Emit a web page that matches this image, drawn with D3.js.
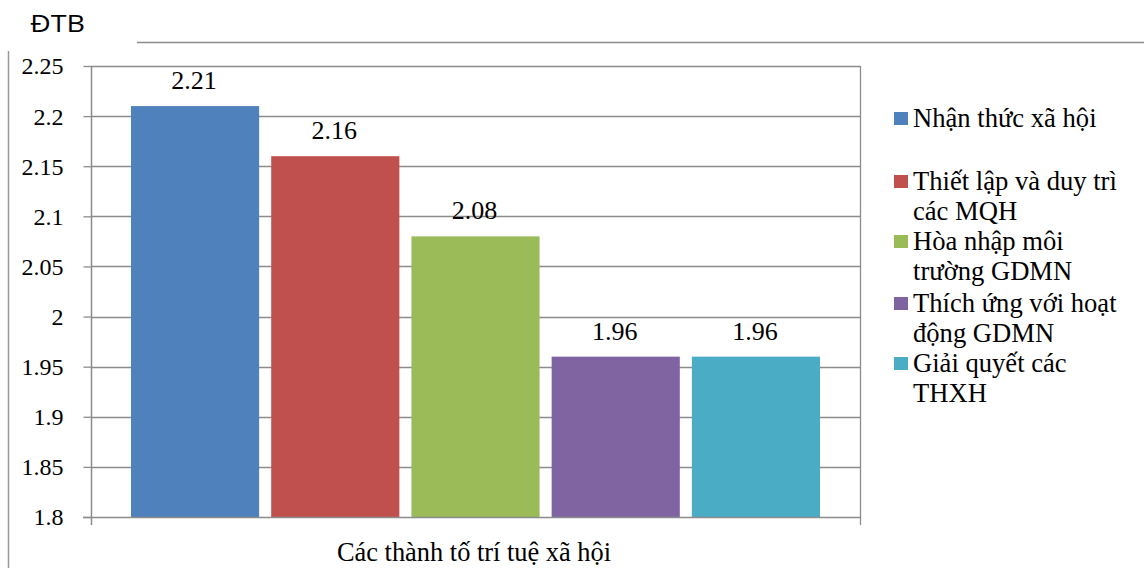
<!DOCTYPE html>
<html>
<head>
<meta charset="utf-8">
<script src="https://cdn.jsdelivr.net/npm/d3@7"></script>
<style>
  body { margin: 0; background: #fff; }
  text { font-family: "Liberation Serif", "Times New Roman", serif; fill: #000; }
</style>
</head>
<body>
<svg id="chart" width="1144" height="568"></svg>
<script>
// data
var series = ["Nhận thức xã hội", "Thiết lập và duy trì các MQH", "Hòa nhập môi trường GDMN", "Thích ứng với hoạt động GDMN", "Giải quyết các THXH"]
var legendLines = [["Nhận thức xã hội"], ["Thiết lập và duy trì", "các MQH"], ["Hòa nhập môi", "trường GDMN"], ["Thích ứng với hoạt", "động GDMN"], ["Giải quyết các", "THXH"]]
var values = [2.21, 2.16, 2.08, 1.96, 1.96]
var valueLabels = ["2.21", "2.16", "2.08", "1.96", "1.96"]
var yTicks = [1.8, 1.85, 1.9, 1.95, 2, 2.05, 2.1, 2.15, 2.2, 2.25]
var colors = ["#4F81BD", "#C0504D", "#9BBB59", "#8064A2", "#4BACC6"]
var category = "Các thành tố trí tuệ xã hội"

var svg = d3.select('#chart')
var plotLeft = 91, plotRight = 860, plotTop = 66, plotBottom = 517
var serif = '"Liberation Serif", "Times New Roman", serif'

var x = d3.scaleBand()
    .domain(series)
    .range([plotLeft, plotRight])
    .paddingInner(0.086)
    .paddingOuter(0.285)

var y = d3.scaleLinear()
    .domain([1.8, 2.25])
    .range([plotBottom, plotTop])

// outer frame bits
svg.append('line')
    .attr('x1', 137).attr('x2', 1144).attr('y1', 42.5).attr('y2', 42.5)
    .style('stroke', '#8c8c8c').style('stroke-width', 1.5)
svg.append('line')
    .attr('x1', 8.5).attr('x2', 8.5).attr('y1', 51).attr('y2', 568)
    .style('stroke', '#999').style('stroke-width', 1.5)

svg.append('text')
    .attr('x', 30).attr('y', 32)
    .attr('textLength', 55)
    .attr('lengthAdjust', 'spacingAndGlyphs')
    .style('font-family', '"Open Sans", "DejaVu Sans", sans-serif')
    .style('font-size', '23px')
    .text('ĐTB')

// gridlines
svg.append('g').selectAll('line')
    .data(yTicks.slice(1))
    .enter().append('line')
    .attr('x1', plotLeft).attr('x2', plotRight)
    .attr('y1', d => Math.round(y(d)) + 0.5).attr('y2', d => Math.round(y(d)) + 0.5)
    .style('stroke', '#8c8c8c').style('stroke-width', 1.3)

// right edge of plot
svg.append('line')
    .attr('x1', plotRight + 0.5).attr('x2', plotRight + 0.5).attr('y1', plotTop).attr('y2', plotBottom)
    .style('stroke', '#8c8c8c').style('stroke-width', 1.3)

// bars
svg.append('g').selectAll('rect')
    .data(values)
    .enter().append('rect')
    .attr('x', (d, i) => x(series[i]))
    .attr('width', x.bandwidth())
    .attr('y', d => y(d))
    .attr('height', d => y(1.8) - y(d))
    .style('fill', (d, i) => colors[i])

svg.append('g').selectAll('text')
    .data(values)
    .enter().append('text')
    .attr('x', (d, i) => x(series[i]) + x.bandwidth() / 2 - 1)
    .attr('y', d => y(d) - 17)
    .attr('text-anchor', 'middle')
    .style('font-family', serif)
    .style('font-size', '26px')
    .text((d, i) => valueLabels[i])

// y axis
var yAxis = d3.axisLeft(y)
    .tickValues(yTicks)
    .tickSize(8)
    .tickFormat(d => d3.format('')(d))
var ga = svg.append('g')
    .attr('transform', 'translate(' + (plotLeft + 0.5) + ',0)')
    .call(yAxis)
ga.select('.domain').attr('d', 'M0,' + plotTop + 'V' + (plotBottom + 8)).style('stroke', '#8c8c8c').style('stroke-width', 1.5)
ga.selectAll('.tick line').style('stroke', '#8c8c8c').style('stroke-width', 1.3)
ga.selectAll('.tick text')
    .attr('x', -28)
    .attr('dy', '0.33em')
    .style('font-family', serif)
    .style('font-size', '24px')
    .style('fill', '#000')

// x axis
svg.append('line')
    .attr('x1', plotLeft - 8).attr('x2', plotRight).attr('y1', plotBottom + 0.5).attr('y2', plotBottom + 0.5)
    .style('stroke', '#8c8c8c').style('stroke-width', 1.5)
svg.append('line')
    .attr('x1', plotRight + 0.5).attr('x2', plotRight + 0.5).attr('y1', plotBottom).attr('y2', plotBottom + 8)
    .style('stroke', '#8c8c8c').style('stroke-width', 1.3)
svg.append('text')
    .attr('x', 474).attr('y', 561)
    .attr('text-anchor', 'middle')
    .style('font-family', serif)
    .style('font-size', '26.4px')
    .text(category)

// legend
var legendY = [127, 190, 250, 312, 372]
var lg = svg.append('g').selectAll('g')
    .data(legendLines)
    .enter().append('g')
    .attr('transform', (d, i) => 'translate(894,' + legendY[i] + ')')
lg.append('rect')
    .attr('x', 0).attr('y', -15).attr('width', 14).attr('height', 13)
    .style('fill', (d, i) => colors[i])
lg.append('text')
    .style('font-family', serif)
    .style('font-size', '26.6px')
    .selectAll('tspan')
    .data(d => d)
    .enter().append('tspan')
    .attr('x', 19)
    .attr('dy', (d, i) => i == 0 ? 0 : 30)
    .text(d => d)
</script>
</body>
</html>
